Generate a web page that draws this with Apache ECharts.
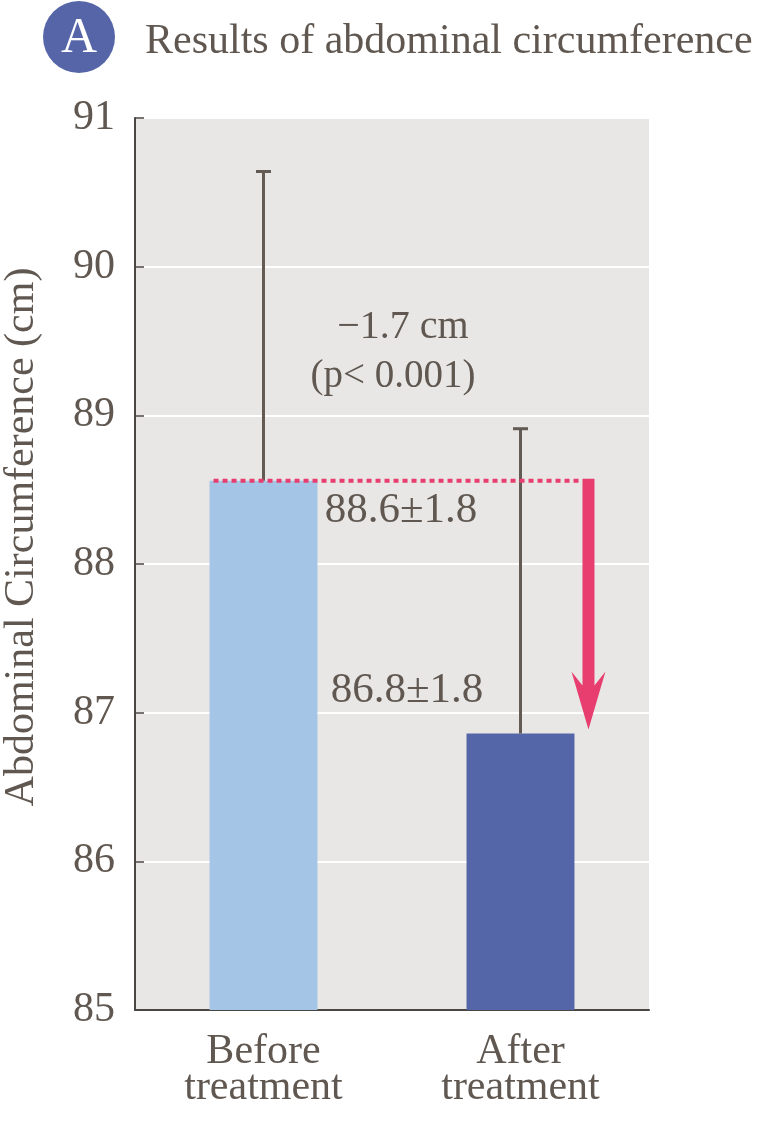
<!DOCTYPE html>
<html><head><meta charset="utf-8">
<script src="https://cdn.jsdelivr.net/npm/echarts@6/dist/echarts.min.js"></script>
<style>html,body{margin:0;padding:0;background:#fff}#c{width:777px;height:1122px}</style>
</head><body><div id="c"></div>
<script>
const categories = ['Before\ntreatment', 'After\ntreatment'];
const meanValues = [88.56, 86.86];
const upperValues = [90.64, 88.91];
const barColors = ['#a5c5e7', '#5566a8'];
const yTicks = [85, 86, 87, 88, 89, 90, 91];
const valueLabels = ['88.6\u00b11.8', '86.8\u00b11.8'];
const diffLabel = '\u22121.7 cm';
const pLabel = '(p< 0.001)';
const yAxisTitle = 'Abdominal Circumference (cm)';
const chartTitle = 'Results of abdominal circumference';

const FONT = '"Liberation Serif", "DejaVu Serif", serif';
const TXT = '#5f5750';
const PINK = '#e83e6f';

const chart = echarts.init(document.getElementById('c'));
const BW = 0.42;

chart.setOption({
  animation: false,
  grid: { left: 135, right: 128, top: 118, bottom: 112, show: true, backgroundColor: '#e8e7e5', borderWidth: 0, outerBoundsMode: 'none', containLabel: false },
  xAxis: {
    type: 'category', data: categories,
    axisLine: { lineStyle: { color: '#4a4642', width: 2 } },
    axisTick: { inside: true, length: 10, lineStyle: { color: '#4a4642', width: 1.5 } },
    axisLabel: { color: TXT, fontFamily: FONT, fontSize: 42, lineHeight: 36, margin: 24 }
  },
  yAxis: {
    type: 'value', min: yTicks[0], max: yTicks[yTicks.length - 1], interval: 1,
    axisLine: { show: true, lineStyle: { color: '#4a4642', width: 2 } },
    axisTick: { show: true, inside: true, length: 9, lineStyle: { color: '#4a4642', width: 1.5 } },
    axisLabel: { color: TXT, fontFamily: FONT, fontSize: 42, margin: 20 },
    splitLine: { lineStyle: { color: '#ffffff', width: 2 } }
  },
  series: [
    {
      type: 'bar', barWidth: (BW * 100) + '%',
      data: meanValues.map((v, i) => ({ value: v, itemStyle: { color: barColors[i] } })),
      z: 2
    },
    {
      type: 'custom', z: 3,
      data: meanValues.map((v, i) => [i, v, upperValues[i]]),
      renderItem: function (params, api) {
        const p0 = api.coord([api.value(0), api.value(1)]);
        const p1 = api.coord([api.value(0), api.value(2)]);
        const st = { stroke: '#625a53', lineWidth: 3 };
        return { type: 'group', children: [
          { type: 'line', shape: { x1: p0[0], y1: p0[1], x2: p1[0], y2: p1[1] }, style: st },
          { type: 'line', shape: { x1: p1[0] - 7.5, y1: p1[1], x2: p1[0] + 7.5, y2: p1[1] }, style: st }
        ] };
      }
    },
    {
      type: 'custom', z: 4,
      data: [[0, 1, meanValues[0], meanValues[1]]],
      renderItem: function (params, api) {
        const bw = api.size([1, 0])[0];
        const a = api.coord([api.value(0), api.value(2)]);
        const b = api.coord([api.value(1), api.value(3)]);
        const xStart = a[0] - bw * BW / 2 + 4;
        const xArrow = b[0] + bw * BW / 2 + 14;
        const yTop = a[1];
        const yTip = b[1] - 4;
        const headH = 58, headW = 17, shaft = 6, notch = 14;
        return { type: 'group', children: [
          { type: 'line', shape: { x1: xStart, y1: yTop, x2: xArrow - shaft, y2: yTop },
            style: { stroke: PINK, lineWidth: 4, lineDash: [5, 4] } },
          { type: 'polygon', shape: { points: [
            [xArrow - shaft, yTop - 2], [xArrow + shaft, yTop - 2],
            [xArrow + shaft, yTip - headH + notch], [xArrow + headW, yTip - headH],
            [xArrow, yTip], [xArrow - headW, yTip - headH],
            [xArrow - shaft, yTip - headH + notch]
          ] }, style: { fill: PINK } }
        ] };
      }
    }
  ],
  graphic: [
    { type: 'circle', shape: { cx: 79, cy: 37, r: 36 }, style: { fill: '#5565a8' } },
    { type: 'text', x: 79, y: 39, style: { text: 'A', fill: '#fff', font: '50px ' + FONT, align: 'center', verticalAlign: 'middle' } },
    { type: 'text', x: 145, y: 42, style: { text: chartTitle, fill: TXT, font: '42px ' + FONT, align: 'left', verticalAlign: 'middle' } },
    { type: 'text', x: 22, y: 537, rotation: Math.PI / 2, style: { text: yAxisTitle, fill: TXT, font: '42px ' + FONT, align: 'center', verticalAlign: 'middle' } },
    { type: 'text', x: 403, y: 327, style: { text: diffLabel, fill: TXT, font: '40px ' + FONT, align: 'center', verticalAlign: 'middle' } },
    { type: 'text', x: 393, y: 377, style: { text: pLabel, fill: TXT, font: '39px ' + FONT, align: 'center', verticalAlign: 'middle' } },
    { type: 'text', x: 401, y: 511, style: { text: valueLabels[0], fill: TXT, font: '43px ' + FONT, align: 'center', verticalAlign: 'middle' } },
    { type: 'text', x: 407, y: 691, style: { text: valueLabels[1], fill: TXT, font: '43px ' + FONT, align: 'center', verticalAlign: 'middle' } }
  ]
});
</script></body></html>
